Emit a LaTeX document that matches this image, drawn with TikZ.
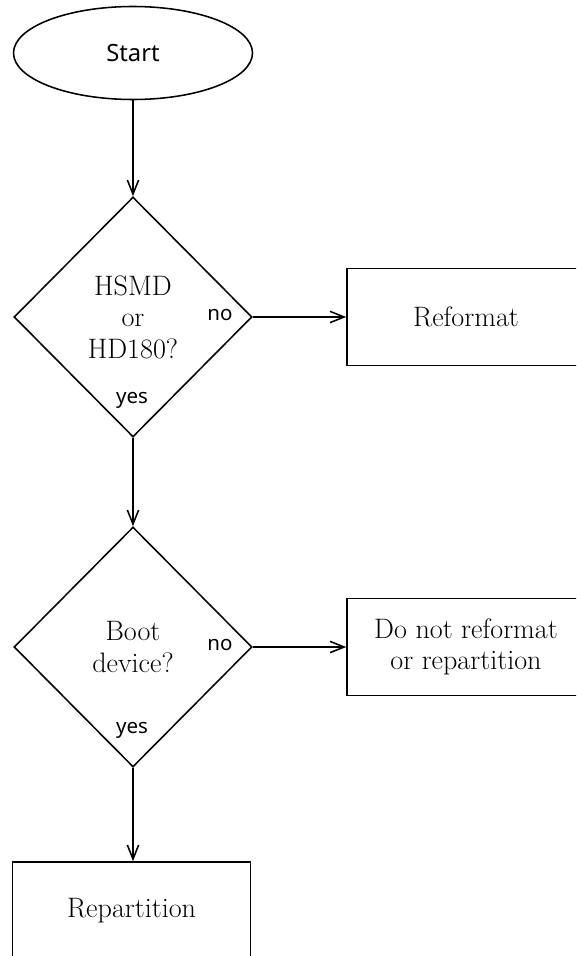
\documentclass[tikz,border=0pt]{standalone}
\usepackage{fontspec}
\setsansfont{Noto Sans}
\usetikzlibrary{shapes,arrows.meta,positioning}
\tikzset{oval/.style={
            draw,
            ellipse,
            line width=1.1pt,
            inner sep=0pt,
            minimum width=5.975cm,
            minimum height=2.325cm,
            font=\sffamily\fontsize{16.9}{20}\selectfont
        },
        decision/.style={
            draw,
            diamond,
            line width=1.1pt,
            inner sep=0pt,
            minimum width=5.95cm,
            minimum height=6cm,
            align=center,
            font=\fontsize{20}{22.4}\selectfont
        },
        box/.style={
            draw,
            line width=1.1pt,
            inner sep=0pt,
            minimum width=5.95cm,
            minimum height=2.425cm,
            align=center,
            font=\fontsize{20}{22.4}\selectfont
        },
        answer/.style={
            inner sep=0pt,
            font=\sffamily\fontsize{14.6}{17}\selectfont
        },
        flow/.style={
            line width=1.1pt,
            -{Straight Barb[length=10pt,width=8pt]}
        }
    }
\begin{document}
\begin{tikzpicture}
        \clip (0,0) rectangle (14.4,-23.9);

        \node[oval] at (3.325,-1.325) (start) {Start};
        \node[decision] at (3.325,-7.925) (hsmd) {HSMD\\or\\HD180?};
        \node[box] at (11.65,-7.925) (reformat) {Reformat};
        \node[decision] at (3.325,-16.175) (boot) {Boot\\device?};
        \node[box] at (11.65,-16.175) (keep) {Do not reformat\\or repartition};
        \node[box] at (3.29,-22.76) (repart) {Repartition};

        % answers inside the diamonds
        \node[answer] at (5.5,-7.88) (no1) {no};
        \node[answer] at (3.3,-10.0) (yes1) {yes};
        \node[answer] at (5.5,-16.12) (no2) {no};
        \node[answer] at (3.3,-18.25) (yes2) {yes};

        \draw[flow] (start) -- (hsmd);
        \draw[flow] (hsmd) -- (reformat);
        \draw[flow] (hsmd) -- (boot);
        \draw[flow] (boot) -- (keep);
        \draw[flow] (boot.south) -- (repart.north -| boot.south);

    \end{tikzpicture}
\end{document}
